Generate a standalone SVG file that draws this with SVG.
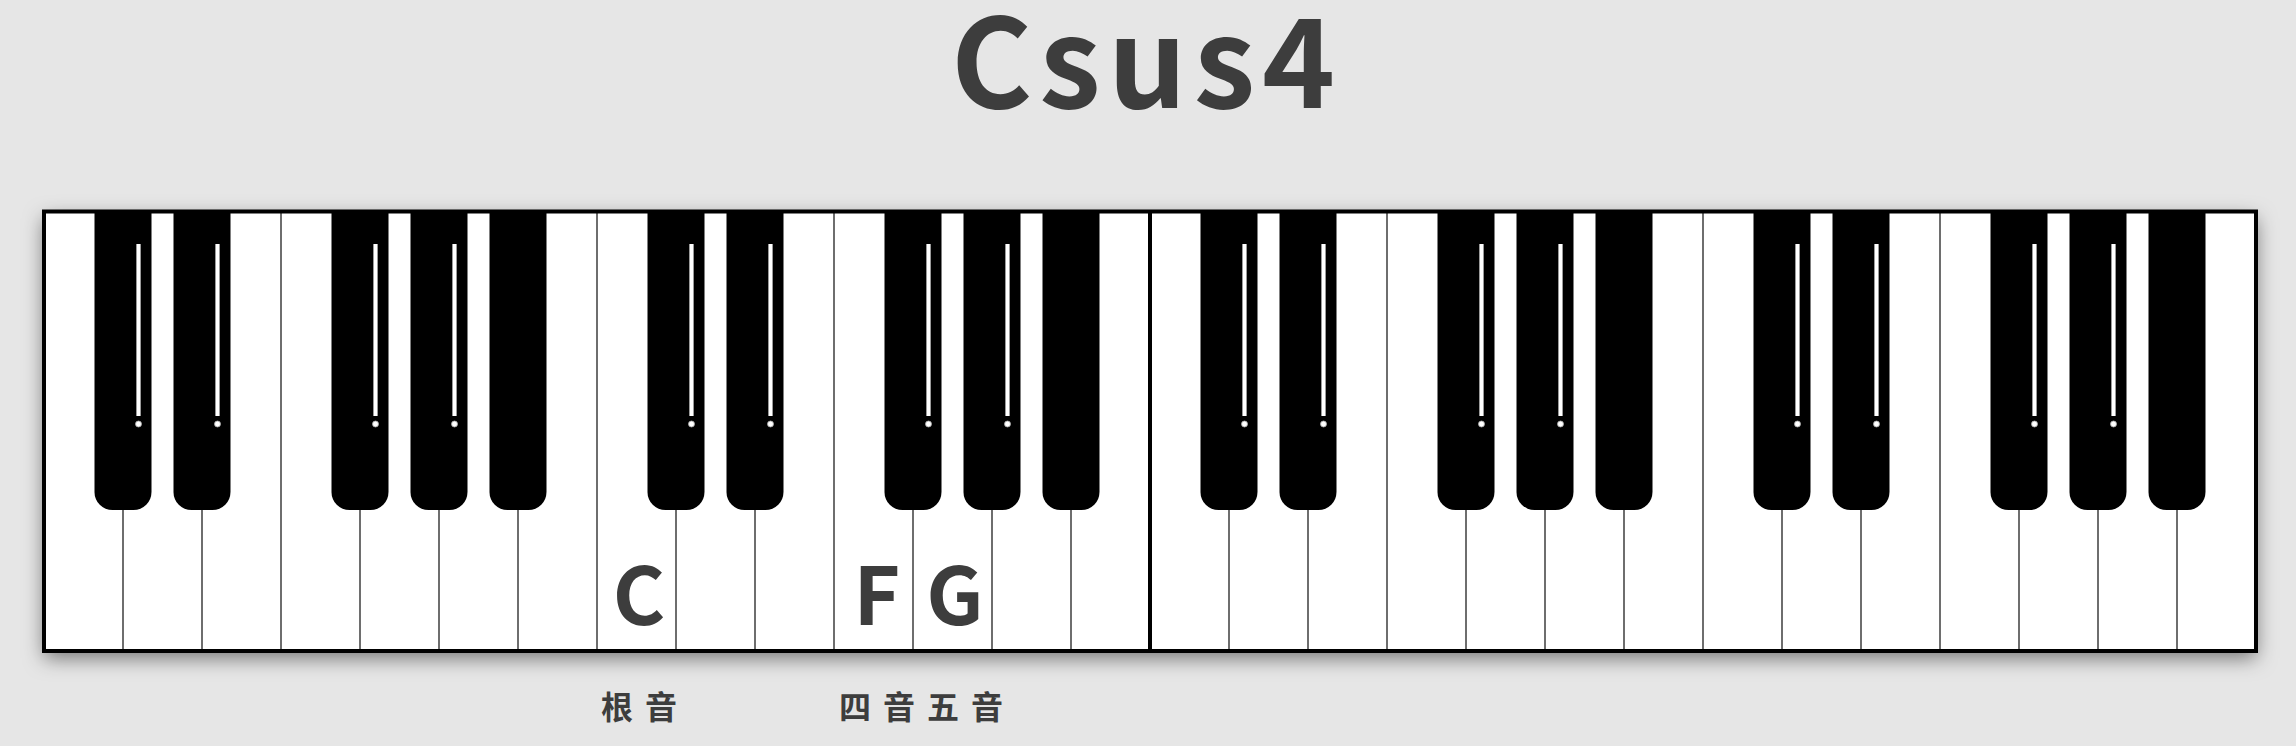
<svg xmlns="http://www.w3.org/2000/svg" width="2296" height="746" viewBox="0 0 2296 746">
<defs>
<filter id="sh" x="-5%" y="-20%" width="110%" height="150%">
<feDropShadow dx="0" dy="7" stdDeviation="10" flood-color="#000" flood-opacity="0.5"/>
</filter>
<path id="bk" d="M0,213 H57 V492 A18,18 0 0 1 39,510 H18 A18,18 0 0 1 0,492 Z" fill="#000"/>
<g id="stripe">
<line x1="44" y1="244" x2="44" y2="416" stroke="#9a9a9a" stroke-width="5"/>
<line x1="44" y1="244" x2="44" y2="416" stroke="#fff" stroke-width="3"/>
<circle cx="44" cy="424" r="3" fill="#fff" stroke="#aaa" stroke-width="0.8"/>
</g>
</defs>
<style>
.sep{stroke:#4a4a4a;stroke-width:1.6}
.lbl{font-family:"Noto Sans CJK SC","Noto Sans",sans-serif;font-weight:700;fill:#3d3d3d}
</style>
<rect width="2296" height="746" fill="#e6e6e6"/>
<g id="title"><text class="lbl" x="951" y="108" font-size="124" letter-spacing="7">Csus4</text></g>
<g id="keyboard">
<rect x="44" y="211.5" width="2212" height="439.5" fill="#fff" filter="url(#sh)"/>
<g id="separators">
<line class="sep" x1="123" y1="212" x2="123" y2="651"/><line class="sep" x1="202" y1="212" x2="202" y2="651"/><line class="sep" x1="281" y1="212" x2="281" y2="651"/><line class="sep" x1="360" y1="212" x2="360" y2="651"/><line class="sep" x1="439" y1="212" x2="439" y2="651"/><line class="sep" x1="518" y1="212" x2="518" y2="651"/><line class="sep" x1="597" y1="212" x2="597" y2="651"/><line class="sep" x1="676" y1="212" x2="676" y2="651"/><line class="sep" x1="755" y1="212" x2="755" y2="651"/><line class="sep" x1="834" y1="212" x2="834" y2="651"/><line class="sep" x1="913" y1="212" x2="913" y2="651"/><line class="sep" x1="992" y1="212" x2="992" y2="651"/><line class="sep" x1="1071" y1="212" x2="1071" y2="651"/><line class="sep" x1="1229" y1="212" x2="1229" y2="651"/><line class="sep" x1="1308" y1="212" x2="1308" y2="651"/><line class="sep" x1="1387" y1="212" x2="1387" y2="651"/><line class="sep" x1="1466" y1="212" x2="1466" y2="651"/><line class="sep" x1="1545" y1="212" x2="1545" y2="651"/><line class="sep" x1="1624" y1="212" x2="1624" y2="651"/><line class="sep" x1="1703" y1="212" x2="1703" y2="651"/><line class="sep" x1="1782" y1="212" x2="1782" y2="651"/><line class="sep" x1="1861" y1="212" x2="1861" y2="651"/><line class="sep" x1="1940" y1="212" x2="1940" y2="651"/><line class="sep" x1="2019" y1="212" x2="2019" y2="651"/><line class="sep" x1="2098" y1="212" x2="2098" y2="651"/><line class="sep" x1="2177" y1="212" x2="2177" y2="651"/>
<line x1="1150" y1="212" x2="1150" y2="651" stroke="#000" stroke-width="4"/>
</g>
<g id="blackkeys">
<g transform="translate(94.5,0)"><use href="#bk"/><use href="#stripe"/></g>
<g transform="translate(173.5,0)"><use href="#bk"/><use href="#stripe"/></g>
<g transform="translate(331.5,0)"><use href="#bk"/><use href="#stripe"/></g>
<g transform="translate(410.5,0)"><use href="#bk"/><use href="#stripe"/></g>
<g transform="translate(489.5,0)"><use href="#bk"/></g>
<g transform="translate(647.5,0)"><use href="#bk"/><use href="#stripe"/></g>
<g transform="translate(726.5,0)"><use href="#bk"/><use href="#stripe"/></g>
<g transform="translate(884.5,0)"><use href="#bk"/><use href="#stripe"/></g>
<g transform="translate(963.5,0)"><use href="#bk"/><use href="#stripe"/></g>
<g transform="translate(1042.5,0)"><use href="#bk"/></g>
<g transform="translate(1200.5,0)"><use href="#bk"/><use href="#stripe"/></g>
<g transform="translate(1279.5,0)"><use href="#bk"/><use href="#stripe"/></g>
<g transform="translate(1437.5,0)"><use href="#bk"/><use href="#stripe"/></g>
<g transform="translate(1516.5,0)"><use href="#bk"/><use href="#stripe"/></g>
<g transform="translate(1595.5,0)"><use href="#bk"/></g>
<g transform="translate(1753.5,0)"><use href="#bk"/><use href="#stripe"/></g>
<g transform="translate(1832.5,0)"><use href="#bk"/><use href="#stripe"/></g>
<g transform="translate(1990.5,0)"><use href="#bk"/><use href="#stripe"/></g>
<g transform="translate(2069.5,0)"><use href="#bk"/><use href="#stripe"/></g>
<g transform="translate(2148.5,0)"><use href="#bk"/></g>
</g>
<rect x="44" y="211.5" width="2212" height="439.5" fill="none" stroke="#000" stroke-width="4"/>
</g>
<g id="note-labels">
<text class="lbl" x="639" y="625" font-size="80" text-anchor="middle">C</text>
<text class="lbl" x="877" y="625" font-size="80" text-anchor="middle">F</text>
<text class="lbl" x="955" y="625" font-size="80" text-anchor="middle">G</text>
</g>
<g id="role-labels">
<text class="lbl" x="601" y="719" font-size="32" letter-spacing="12">根音</text>
<text class="lbl" x="839" y="719" font-size="32" letter-spacing="12">四音</text>
<text class="lbl" x="927" y="719" font-size="32" letter-spacing="12">五音</text>
</g>
</svg>
